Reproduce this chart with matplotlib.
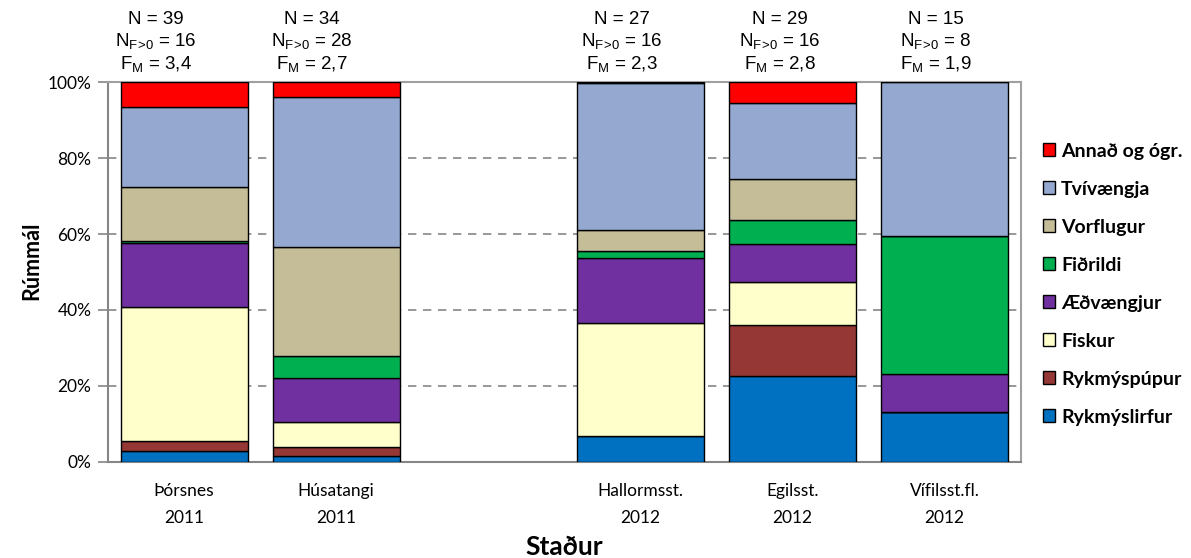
import numpy as np
import matplotlib
matplotlib.use('Agg')
import matplotlib.pyplot as plt
from matplotlib.patches import Patch

plt.rcParams['font.family'] = ['Lato', 'DejaVu Sans']
plt.rcParams['mathtext.default'] = 'regular'

# sites (label, year); an empty slot is left between 2011 and 2012
sites = ['Þórsnes\n2011', 'Húsatangi\n2011', 'Hallormsst.\n2012', 'Egilsst.\n2012', 'Vífilsst.fl.\n2012']
xpos = [0, 1, 3, 4, 5]

n_all = [39, 34, 27, 29, 15]
n_f = [16, 28, 16, 16, 8]
f_m = ['3,4', '2,7', '2,3', '2,8', '1,9']

# volume shares (%) per prey group, bottom to top
groups = ['Rykmýslirfur', 'Rykmýspúpur', 'Fiskur', 'Æðvængjur',
          'Fiðrildi', 'Vorflugur', 'Tvívængja', 'Annað og ógr.']
rykmyslirfur = [2.8, 1.6, 6.7, 22.7, 13.2]
rykmyspupur = [2.7, 2.2, 0.0, 13.3, 0.0]
fiskur = [35.3, 6.6, 29.8, 11.4, 0.0]
aedvaengjur = [16.8, 11.7, 17.2, 10.0, 10.0]
fidrildi = [0.5, 5.8, 1.7, 6.2, 36.4]
vorflugur = [14.4, 28.8, 5.6, 11.0, 0.0]
tvivaengja = [20.9, 39.3, 38.7, 20.0, 40.4]
annad = [6.6, 4.0, 0.3, 5.4, 0.0]

colors = ['#0070C0', '#953735', '#FFFFCC', '#7030A0',
          '#00B050', '#C4BD97', '#95A9D0', '#FF0000']

series = [rykmyslirfur, rykmyspupur, fiskur, aedvaengjur,
          fidrildi, vorflugur, tvivaengja, annad]

fig = plt.figure(figsize=(11.91, 5.58), dpi=100)
ax = fig.add_axes([0.0907, 0.1726, 0.7663, 0.68])

bottom = np.zeros(len(xpos))
for vals, col in zip(series, colors):
    vals = np.array(vals)
    ax.bar(xpos, vals, width=0.835, bottom=bottom, color=col,
           edgecolor='black', linewidth=1.0, zorder=3)
    bottom += vals

ax.set_xlim(-0.5, 5.5)
ax.set_ylim(0, 100)
ax.set_yticks([0, 20, 40, 60, 80, 100])
ax.set_yticklabels(['0%', '20%', '40%', '60%', '80%', '100%'], fontsize=12.5)
ax.set_xticks(xpos)
ax.set_xticklabels(sites, fontsize=12.5, linespacing=1.85)
ax.tick_params(axis='x', length=0, pad=15)
ax.tick_params(axis='y', length=7, color='#868686', width=1.2, pad=5)

ax.yaxis.grid(True, color='#868686', linestyle=(0, (5, 4)), linewidth=1.2, zorder=0)
ax.set_axisbelow(True)
for s in ax.spines.values():
    s.set_color('#868686')
    s.set_linewidth(1.5)
ax.spines['top'].set_color('#A0A0A0')
ax.spines['right'].set_color('#A0A0A0')

ax.set_ylabel('Rúmmál', fontsize=15.5, fontweight='bold', labelpad=10)
ax.yaxis.set_label_coords(-0.072, 0.53)
ax.set_xlabel('Staður', fontsize=19, fontweight='bold', labelpad=7)

# sample sizes above each bar (text boxes sit a little left of the bar centre)
note_shift = [-0.184, -0.161, -0.12, -0.085, -0.06]
tr = ax.get_xaxis_transform()
for x, dx, n, nf, fm in zip(xpos, note_shift, n_all, n_f, f_m):
    kw = dict(transform=tr, ha='center', va='center', fontsize=13.5,
              family='Liberation Sans')
    ax.text(x + dx, 1.165, f'N = {n}', **kw)
    ax.text(x + dx, 1.109, f'N$_{{F\\!>\\!0}}$ = {nf}', **kw)
    ax.text(x + dx, 1.048, f'F$_M$ = {fm}', **kw)

handles = [Patch(facecolor=c, edgecolor='black', linewidth=1.0, label=g)
           for g, c in zip(groups, colors)][::-1]
leg = ax.legend(handles=handles, loc='center left', bbox_to_anchor=(1.005, 0.468),
                frameon=False, handlelength=0.65, handleheight=0.65,
                handletextpad=0.3, labelspacing=1.08,
                prop={'family': 'Lato', 'weight': 'bold', 'size': 14})

fig.savefig('out.png', dpi=100)
